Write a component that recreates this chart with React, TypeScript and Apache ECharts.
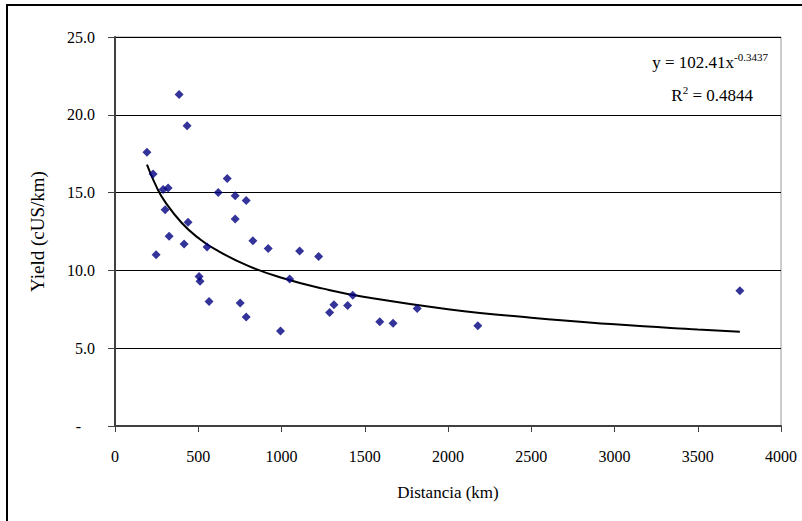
import React, { useEffect, useRef } from "react";
import * as echarts from "echarts";

// Observed points: distance (km), yield (cUS/km)
const distKm = [
  192, 229, 247, 289, 319, 301, 325, 385, 415, 433, 439, 505, 511, 553, 565,
  620, 674, 722, 722, 752, 788, 788, 828, 920, 994, 1049, 1109, 1223, 1289,
  1315, 1397, 1428, 1590, 1670, 1815, 2179, 3753,
];
const yieldVals = [
  17.6, 16.2, 11.0, 15.2, 15.3, 13.9, 12.2, 21.3, 11.7, 19.3, 13.1, 9.6, 9.3,
  11.5, 8.0, 15.0, 15.9, 14.8, 13.3, 7.9, 7.0, 14.5, 11.9, 11.4, 6.1, 9.45,
  11.25, 10.9, 7.3, 7.8, 7.75, 8.4, 6.7, 6.6, 7.55, 6.45, 8.7,
];

// Power trendline
const trendX = [192, 250, 300, 400, 500, 600, 800, 1000, 1250, 1500, 2000, 2500, 3000, 3500, 3753];
const trendY = [16.8, 15.35, 14.42, 13.06, 12.09, 11.36, 10.29, 9.53, 8.83, 8.29, 7.51, 6.96, 6.54, 6.2, 6.05];

const yTicks = [0, 5, 10, 15, 20, 25];
const xTicks = [0, 500, 1000, 1500, 2000, 2500, 3000, 3500, 4000];

const FONT = "Liberation Serif";

export default function App() {
  const ref = useRef<HTMLDivElement>(null);
  useEffect(() => {
    if (!ref.current) return;
    const chart = echarts.init(ref.current, null, { renderer: "svg" });
    const t = (size: number) => ({ fontFamily: FONT, fontSize: size, color: "#000" });
    chart.setOption({
      animation: false,
      backgroundColor: "#ffffff",
      textStyle: { fontFamily: FONT },
      grid: {
        left: 115,
        right: 21,
        top: 37,
        bottom: 95,
        show: true,
        borderColor: "#9a9a9a",
        borderWidth: 1,
        backgroundColor: "transparent",
      },
      xAxis: {
        type: "value",
        min: xTicks[0],
        max: xTicks[xTicks.length - 1],
        interval: 500,
        name: "{t|Distancia (km)}",
        nameLocation: "middle",
        nameGap: 58,
        nameMoveOverlap: false,
        nameTextStyle: { ...t(17), rich: { t: t(17) } },
        axisLine: { show: true, lineStyle: { color: "#404040", width: 2 } },
        axisTick: { show: true, length: 6, lineStyle: { color: "#404040", width: 1 } },
        axisLabel: {
          ...t(16),
          margin: 22,
          formatter: (v: number) => "{t|" + String(v) + "}",
          rich: { t: t(16) },
        },
        splitLine: { show: false },
      },
      yAxis: {
        type: "value",
        min: yTicks[0],
        max: yTicks[yTicks.length - 1],
        interval: 5,
        name: "{t|Yield (cUS/km)}",
        nameLocation: "middle",
        nameGap: 68,
        nameMoveOverlap: false,
        nameTextStyle: { ...t(19), rich: { t: t(19) } },
        axisLine: { show: true, lineStyle: { color: "#404040", width: 2 } },
        axisTick: { show: true, length: 7, lineStyle: { color: "#404040", width: 1 } },
        axisLabel: {
          ...t(16),
          margin: 20,
          formatter: (v: number) => (v === 0 ? "{d|-}" : "{t|" + v.toFixed(1) + "}"),
          rich: { t: t(16), d: { ...t(16), padding: [0, 14, 0, 0] } },
        },
        splitLine: { show: true, lineStyle: { color: "#000", width: 1 } },
      },
      graphic: [
        {
          type: "rect",
          shape: { x: 7, y: 5, width: 850, height: 600 },
          style: { fill: "none", stroke: "#000", lineWidth: 2 },
          silent: true,
        },
        {
          type: "text",
          right: 34,
          top: 51,
          style: {
            text: "{a|y = 102.41x}{s|-0.3437}",
            rich: {
              a: t(17),
              s: { ...t(11), padding: [0, 0, 12, 0] },
            },
          },
        },
        {
          type: "text",
          right: 49,
          top: 84,
          style: {
            text: "{a|R}{s|2}{a| = 0.4844}",
            rich: {
              a: t(17),
              s: { ...t(11), padding: [0, 0, 12, 0] },
            },
          },
        },
      ],
      series: [
        {
          type: "line",
          data: trendX.map((x, i) => [x, trendY[i]]),
          smooth: true,
          showSymbol: false,
          lineStyle: { color: "#000", width: 2 },
          z: 2,
        },
        {
          type: "scatter",
          data: distKm.map((x, i) => [x, yieldVals[i]]),
          symbol: "diamond",
          symbolSize: 9,
          itemStyle: { color: "#000080" },
          z: 3,
        },
      ],
    });
    return () => chart.dispose();
  }, []);
  return (
    <div
      ref={ref}
      style={{ position: "absolute", left: 0, top: 0, width: 802, height: 521 }}
    />
  );
}
